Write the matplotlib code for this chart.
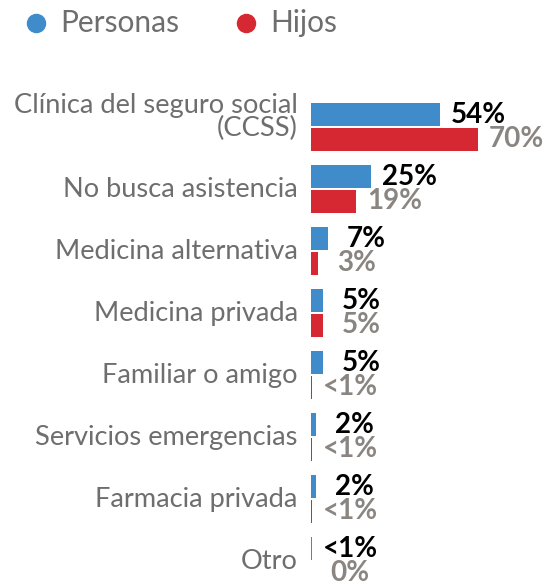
import numpy as np
import matplotlib.pyplot as plt
from matplotlib.lines import Line2D

plt.rcParams['font.family'] = ['Lato', 'DejaVu Sans']

categorias = ["Clínica del seguro social\n(CCSS)", "No busca asistencia", "Medicina alternativa",
              "Medicina privada", "Familiar o amigo", "Servicios emergencias",
              "Farmacia privada", "Otro"]
personas = [54, 25, 7, 5, 5, 2, 2, 0.4]
hijos = [70, 19, 3, 5, 0.4, 0.4, 0.4, 0.1]
etiq_personas = ["54%", "25%", "7%", "5%", "5%", "2%", "2%", "<1%"]
etiq_hijos = ["70%", "19%", "3%", "5%", "<1%", "<1%", "<1%", "0%"]

azul = "#408bc9"
rojo = "#d62832"
gris = "#6e6e6e"
gris_num = "#8a8580"

W, H = 546, 584
fig = plt.figure(figsize=(W / 100, H / 100), dpi=100)
ax = fig.add_axes([311 / W, 0, 1 - 311 / W, 1])

y = np.arange(len(categorias))
h = 0.37
ax.barh(y - 0.2, personas, height=h, color=azul)
ax.barh(y + 0.2, hijos, height=h, color=rojo)

for i in range(len(categorias)):
    ax.text(personas[i] + 16, y[i] - 0.2, etiq_personas[i], ha="center", va="center",
            fontsize=20, fontweight="bold", color="black")
    ax.text(hijos[i] + 16, y[i] + 0.2, etiq_hijos[i], ha="center", va="center",
            fontsize=20, fontweight="bold", color=gris_num)
    dy = -0.17 if "\n" in categorias[i] else 0
    ax.text(-5.5, y[i] + dy, categorias[i], ha="right", va="center", fontsize=19.6,
            color=gris, linespacing=0.9)

ax.set_xlim(0, 98.3)
ax.set_ylim(7.37, -2.05)
ax.axis("off")

# leyenda
ly = 1 - 23 / H
for x0, col, txt in [(36, azul, "Personas"), (246, rojo, "Hijos")]:
    fig.add_artist(Line2D([x0 / W], [ly], marker="o", ls="", color=col, markersize=13,
                          transform=fig.transFigure))
    fig.text((x0 + 24) / W, ly, txt, ha="left", va="center", fontsize=21.5,
             color=gris)

fig.savefig("out.png", dpi=100)
